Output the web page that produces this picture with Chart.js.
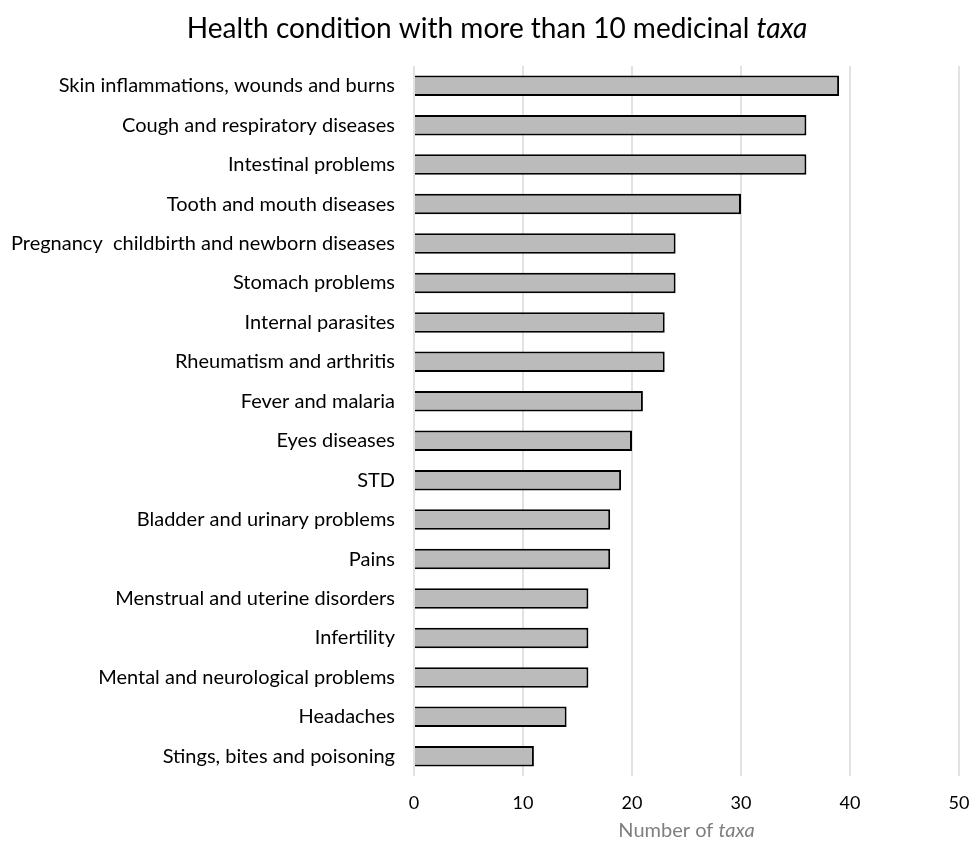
<!DOCTYPE html>
<html><head><meta charset="utf-8">
<script src="https://cdn.jsdelivr.net/npm/chart.js@4"></script>
<style>html,body{margin:0;padding:0;background:#fff}#wrap{width:973px;height:842px}</style>
</head><body><div id="wrap"><canvas id="c" width="973" height="842"></canvas></div>
<script>
const categories = [
  "Skin inflammations, wounds and burns",
  "Cough and respiratory diseases",
  "Intestinal problems",
  "Tooth and mouth diseases",
  "Pregnancy  childbirth and newborn diseases",
  "Stomach problems",
  "Internal parasites",
  "Rheumatism and arthritis",
  "Fever and malaria",
  "Eyes diseases",
  "STD",
  "Bladder and urinary problems",
  "Pains",
  "Menstrual and uterine disorders",
  "Infertility",
  "Mental and neurological problems",
  "Headaches",
  "Stings, bites and poisoning"
];
const taxaCounts = [39, 36, 36, 30, 24, 24, 23, 23, 21, 20, 19, 18, 18, 16, 16, 16, 14, 11];
const xTicks = [0, 10, 20, 30, 40, 50];
const titleParts = [["Health condition with more than 10 medicinal ", false], ["taxa", true]];
const axisTitleParts = [["Number of ", false], ["taxa", true]];

const FONT = "Lato, 'Liberation Sans', sans-serif";

function drawMixed(ctx, parts, cx, cy, size, color) {
  ctx.save();
  ctx.fillStyle = color;
  ctx.textBaseline = 'middle';
  ctx.textAlign = 'left';
  let total = 0;
  const widths = parts.map(([t, it]) => {
    ctx.font = (it ? 'italic ' : '') + size + 'px ' + FONT;
    const w = ctx.measureText(t).width; total += w; return w;
  });
  let x = cx - total / 2;
  parts.forEach(([t, it], i) => {
    ctx.font = (it ? 'italic ' : '') + size + 'px ' + FONT;
    ctx.fillText(t, x, cy);
    x += widths[i];
  });
  ctx.restore();
}

const titlesPlugin = {
  id: 'titles',
  afterDraw(chart) {
    const ctx = chart.ctx;
    drawMixed(ctx, titleParts, 497, 29, 28, '#000000');
    const a = chart.chartArea;
    drawMixed(ctx, axisTitleParts, (a.left + a.right) / 2, 831, 20, '#7f7f7f');
  }
};

new Chart(document.getElementById('c'), {
  type: 'bar',
  data: {
    labels: categories,
    datasets: [{
      data: taxaCounts,
      backgroundColor: '#bbbbbb',
      borderColor: '#000000',
      borderWidth: 2,
      categoryPercentage: 1.0,
      barPercentage: 0.52
    }]
  },
  options: {
    indexAxis: 'y',
    responsive: false,
    animation: false,
    devicePixelRatio: 1,
    layout: { padding: { top: 66, right: 14, left: 0, bottom: 0 } },
    plugins: { legend: { display: false }, title: { display: false }, tooltip: { enabled: false } },
    scales: {
      x: {
        min: 0, max: 50,
        afterBuildTicks(scale) { scale.ticks = xTicks.map(v => ({ value: v })); },
        afterFit(scale) { scale.height = 66; },
        grid: { color: '#e2e2e2', lineWidth: 2, drawTicks: true, tickLength: 16, tickColor: 'rgba(0,0,0,0)' },
        border: { display: false },
        ticks: { color: '#000000', padding: 0, font: { family: FONT, size: 18 } }
      },
      y: {
        afterFit(scale) { scale.width = 414; },
        grid: { display: false, drawTicks: false },
        border: { display: false },
        ticks: { color: '#000000', padding: 19, font: { family: FONT, size: 20 } }
      }
    }
  },
  plugins: [titlesPlugin]
});
</script></body></html>
